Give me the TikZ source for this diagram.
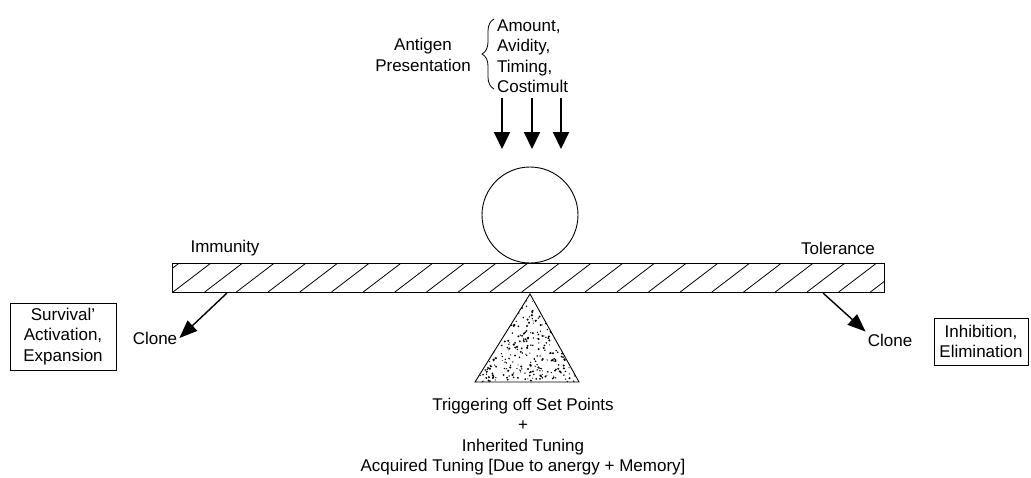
\documentclass[tikz,border=0pt]{standalone}
\usepackage{fontspec}
\setmainfont{Liberation Sans}
\usetikzlibrary{calc, positioning, arrows.meta, decorations.pathreplacing}

\begin{document}
\begin{tikzpicture}[x=1pt,y=-1pt,
    lbl/.style={font=\fontsize{17}{20.5}\selectfont, inner sep=0pt, align=center},
    outbox/.style={lbl, draw, line width=0.9pt, outer sep=0pt},
    push/.style={line width=2pt, -{Triangle[length=17pt,width=16pt]}},
    swing/.style={line width=1.4pt, -{Triangle[length=18pt,width=14pt]}}]
        \useasboundingbox (0,0) rectangle (1031,477);
        % Beam
        \node[draw, line width=1pt, outer sep=0pt, inner sep=0pt,
              minimum width=712pt, minimum height=29pt] (beam) at (528,277.5) {};
        \begin{scope}
          \clip (beam.south west) rectangle (beam.north east);
          \foreach \x in {141.3,173,...,900} {
            \draw[line width=0.8pt] (\x,292) -- ++(38,-29);
          }
        \end{scope}
        % Ball
        \node[draw, circle, line width=0.9pt, minimum size=96pt, inner sep=0pt] (ball) at (530,215) {};
        % Fulcrum
        \coordinate (apex) at (530,294);
        \coordinate (baseL) at (475,382);
        \coordinate (baseR) at (579,382);
        \begin{scope}
          \clip (apex) -- (baseL) -- (baseR) -- cycle;
          \pgfmathsetseed{17}
          \foreach \i in {1,...,480} {
            \fill ({475+104*rnd},{294+88*rnd}) circle ({0.5+0.7*rnd});
          }
        \end{scope}
        \draw[line width=0.9pt] (apex) -- (baseL) -- (baseR) -- cycle;
        % Antigen presentation
        \node[lbl] (antigen) at (423,55) {Antigen\\Presentation};
        \node[lbl, align=left, anchor=west] (factors) at (497,56) {Amount,\\Avidity,\\Timing,\\Costimult};
        \coordinate (braceBot) at (494,89);
        \coordinate (braceTop) at (494,19);
        \draw[line width=0.8pt, decorate, decoration={brace, amplitude=12pt}] (braceBot) -- (braceTop);
        \foreach \x/\n in {502/a,532/b,561/c} {
          \coordinate (in\n) at (\x,98);
          \coordinate (hit\n) at (\x,149);
          \draw[push] (in\n) -- (hit\n);
        }
        % Sides
        \node[lbl] (immunity) at (225,248) {Immunity};
        \node[lbl] (tolerance) at (838,248) {Tolerance};
        \node[lbl, inner sep=2pt] (cloneL) at (155,338) {Clone};
        \node[lbl, inner sep=2pt] (cloneR) at (890,340) {Clone};
        \coordinate (footL) at (227,293);
        \coordinate (footR) at (823,293);
        \draw[swing] (footL) -- (cloneL.east);
        \draw[swing] (footR) -- (cloneR.north west);
        \node[outbox, minimum width=106pt, minimum height=67pt] (survive) at (63,336.5) {Survival’\\Activation,\\Expansion};
        \node[outbox, minimum width=94pt, minimum height=47pt] (inhibit) at (981,341.5) {Inhibition,\\Elimination};
        % Set points
        \node[lbl] (tuning) at (523,436.5) {Triggering off Set Points\\+\\Inherited Tuning\\Acquired Tuning [Due to anergy + Memory]};
\end{tikzpicture}
\end{document}
